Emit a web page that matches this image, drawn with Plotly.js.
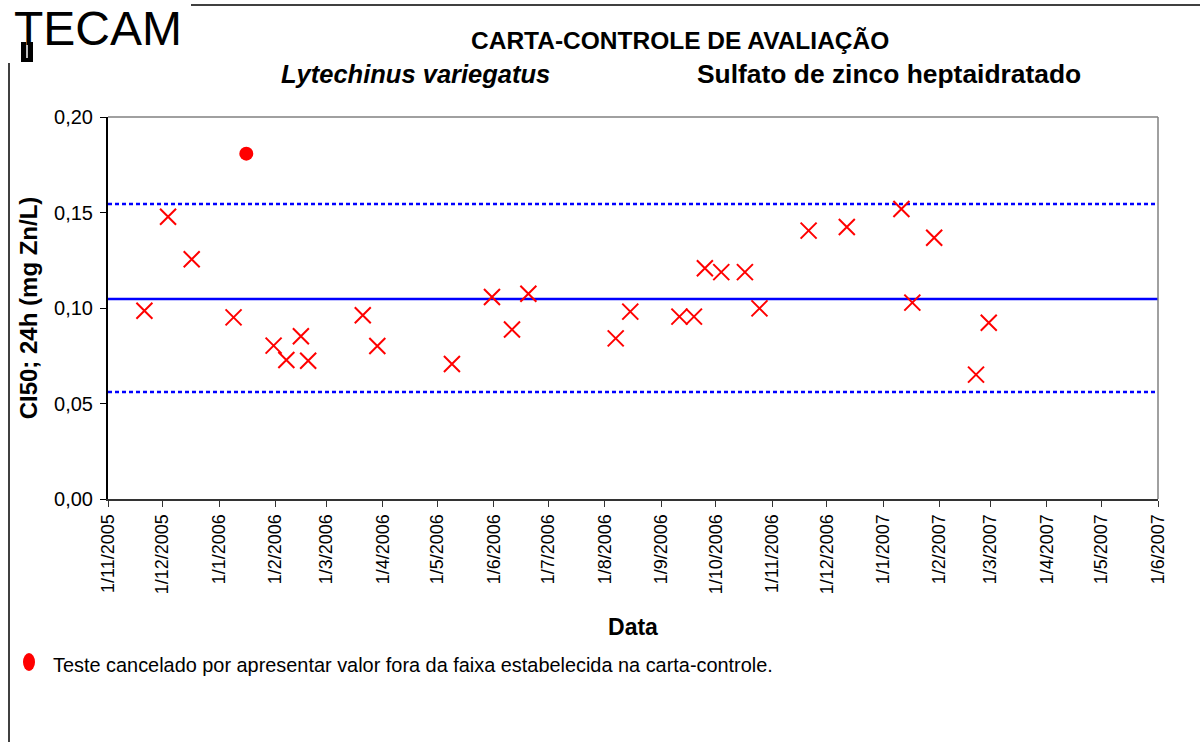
<!DOCTYPE html>
<html>
<head>
<meta charset="utf-8">
<script src="https://cdn.plot.ly/plotly-3.0.1.min.js"></script>
<style>html,body{margin:0;padding:0;background:#fff;}#chart{width:1200px;height:742px;}</style>
</head>
<body>
<div id="chart"></div>
<script>
// Test dates (valid tests)
const testDates = [
  '2005-11-21','2005-12-04','2005-12-17','2006-01-09','2006-01-31','2006-02-07',
  '2006-02-15','2006-02-19','2006-03-21','2006-03-29','2006-05-09','2006-05-31',
  '2006-06-11','2006-06-20','2006-08-07','2006-08-15','2006-09-11','2006-09-19',
  '2006-09-25','2006-10-04','2006-10-17','2006-10-25','2006-11-21','2006-12-12',
  '2007-01-11','2007-01-17','2007-01-29','2007-02-21','2007-02-28'
];
const ci50Values = [
  0.0986, 0.1478, 0.1255, 0.0951, 0.0803, 0.0728,
  0.0852, 0.0724, 0.0962, 0.0801, 0.0707, 0.1058,
  0.0887, 0.1075, 0.0841, 0.0981, 0.0955, 0.0955,
  0.1208, 0.1188, 0.1188, 0.0998, 0.1405, 0.1424,
  0.1518, 0.1028, 0.1368, 0.0651, 0.0923
];
// Cancelled test (outside control range)
const cancelledDates = ['2006-01-16'];
const cancelledValues = [0.1808];
// Control limits
const limitDates = ['2005-11-01', '2007-06-01'];
const meanValue = 0.1047;
const upperLimit = 0.1545;
const lowerLimit = 0.0560;
// Axis ticks
const tickDates = [
  '2005-11-01','2005-12-01','2006-01-01','2006-02-01','2006-03-01','2006-04-01',
  '2006-05-01','2006-06-01','2006-07-01','2006-08-01','2006-09-01','2006-10-01',
  '2006-11-01','2006-12-01','2007-01-01','2007-02-01','2007-03-01','2007-04-01',
  '2007-05-01','2007-06-01'
];
const tickLabels = [
  '1/11/2005','1/12/2005','1/1/2006','1/2/2006','1/3/2006','1/4/2006',
  '1/5/2006','1/6/2006','1/7/2006','1/8/2006','1/9/2006','1/10/2006',
  '1/11/2006','1/12/2006','1/1/2007','1/2/2007','1/3/2007','1/4/2007',
  '1/5/2007','1/6/2007'
];
const yTicks = [0, 0.05, 0.10, 0.15, 0.20];
const yTickLabels = ['0,00','0,05','0,10','0,15','0,20'];

const FONT = 'Liberation Sans, Arial, sans-serif';

const traces = [
  {x: limitDates, y: [upperLimit, upperLimit], mode: 'lines', line: {color: '#0000FF', width: 2.5, dash: '4px,3px'}},
  {x: limitDates, y: [lowerLimit, lowerLimit], mode: 'lines', line: {color: '#0000FF', width: 2.5, dash: '4px,3px'}},
  {x: limitDates, y: [meanValue, meanValue], mode: 'lines', line: {color: '#0000FF', width: 2.5}},
  {x: testDates, y: ci50Values, mode: 'markers',
   marker: {symbol: 'x-thin-open', size: 16, color: '#FF0000', line: {color: '#FF0000', width: 2}}},
  {x: cancelledDates, y: cancelledValues, mode: 'markers',
   marker: {symbol: 'circle', size: 14, color: '#FF0000', line: {width: 0}}}
];

const px2x = p => (p - 108) / 1050;
const px2y = p => (499 - p) / 382;

const layout = {
  width: 1200, height: 742,
  margin: {l: 108, r: 42, t: 117, b: 243},
  paper_bgcolor: '#ffffff', plot_bgcolor: '#ffffff',
  showlegend: false, hovermode: false,
  separators: ', ',
  font: {family: FONT, color: '#000'},
  xaxis: {
    type: 'date', range: [limitDates[0], limitDates[1]],
    tickmode: 'array', tickvals: tickDates, ticktext: tickLabels,
    tickangle: -90, tickfont: {size: 18, family: FONT, color: '#000'},
    ticks: 'outside', ticklen: 6, tickcolor: '#333', tickwidth: 1,
    showgrid: false, zeroline: false,
    showline: true, linecolor: '#333', linewidth: 2,
    title: {text: '<b>Data</b>', font: {size: 23, family: FONT, color: '#000'}, standoff: 26},
    automargin: false, fixedrange: true
  },
  yaxis: {
    range: [0, 0.2],
    tickmode: 'array', tickvals: yTicks, ticktext: yTickLabels,
    tickfont: {size: 20, family: FONT, color: '#000'},
    ticks: 'outside', ticklen: 6, tickcolor: '#000', tickwidth: 1,
    ticklabelstandoff: 3,
    showgrid: false, zeroline: false,
    showline: true, linecolor: '#000', linewidth: 2,
    title: {text: '<b>CI50; 24h (mg Zn/L)</b>', font: {size: 24, family: FONT, color: '#000'}, standoff: 10},
    automargin: false, fixedrange: true
  },
  shapes: [
    // gray top & right borders of plot area
    {type: 'line', xref: 'paper', yref: 'paper', x0: 0, x1: 1, y0: 1, y1: 1, line: {color: '#808080', width: 1.5}},
    {type: 'line', xref: 'paper', yref: 'paper', x0: 1, x1: 1, y0: 0, y1: 1, line: {color: '#808080', width: 1.5}},
    // page frame
    {type: 'line', xref: 'paper', yref: 'paper', x0: px2x(191), x1: px2x(1200), y0: px2y(5), y1: px2y(5), line: {color: '#000', width: 1.5}},
    {type: 'line', xref: 'paper', yref: 'paper', x0: px2x(9), x1: px2x(9), y0: px2y(63), y1: px2y(742), line: {color: '#000', width: 1.5}},
    // logo T stem extension
    {type: 'rect', xref: 'paper', yref: 'paper', x0: px2x(21), x1: px2x(33), y0: px2y(62), y1: px2y(42), fillcolor: '#000', line: {width: 0}},
    {type: 'line', xref: 'paper', yref: 'paper', x0: px2x(27), x1: px2x(27), y0: px2y(58), y1: px2y(16), line: {color: '#fff', width: 1.5}},
    // legend dot
    {type: 'circle', xref: 'paper', yref: 'paper', x0: px2x(23), x1: px2x(35), y0: px2y(671), y1: px2y(653), fillcolor: '#FF0000', line: {width: 0}}
  ],
  annotations: [
    {text: 'TECAM', xref: 'paper', yref: 'paper', x: px2x(12), y: px2y(0), xanchor: 'left', yanchor: 'top', showarrow: false,
     font: {family: FONT, size: 48, color: '#000'}},
    {text: '<b>CARTA-CONTROLE DE AVALIAÇÃO</b>', xref: 'paper', yref: 'paper', x: px2x(680), y: px2y(41), xanchor: 'center', yanchor: 'middle', showarrow: false,
     font: {family: FONT, size: 24.5, color: '#000'}},
    {text: '<b><i>Lytechinus variegatus</i></b>', xref: 'paper', yref: 'paper', x: px2x(415), y: px2y(74), xanchor: 'center', yanchor: 'middle', showarrow: false,
     font: {family: FONT, size: 25.5, color: '#000'}},
    {text: '<b>Sulfato de zinco heptaidratado</b>', xref: 'paper', yref: 'paper', x: px2x(695), y: px2y(74), xanchor: 'left', yanchor: 'middle', showarrow: false,
     font: {family: FONT, size: 26.4, color: '#000'}},
    {text: 'Teste cancelado por apresentar valor fora da faixa estabelecida na carta-controle.', xref: 'paper', yref: 'paper', x: px2x(51), y: px2y(665), xanchor: 'left', yanchor: 'middle', showarrow: false,
     font: {family: FONT, size: 19.9, color: '#000'}}
  ]
};

Plotly.newPlot('chart', traces, layout, {staticPlot: true, displayModeBar: false});
</script>
</body>
</html>
